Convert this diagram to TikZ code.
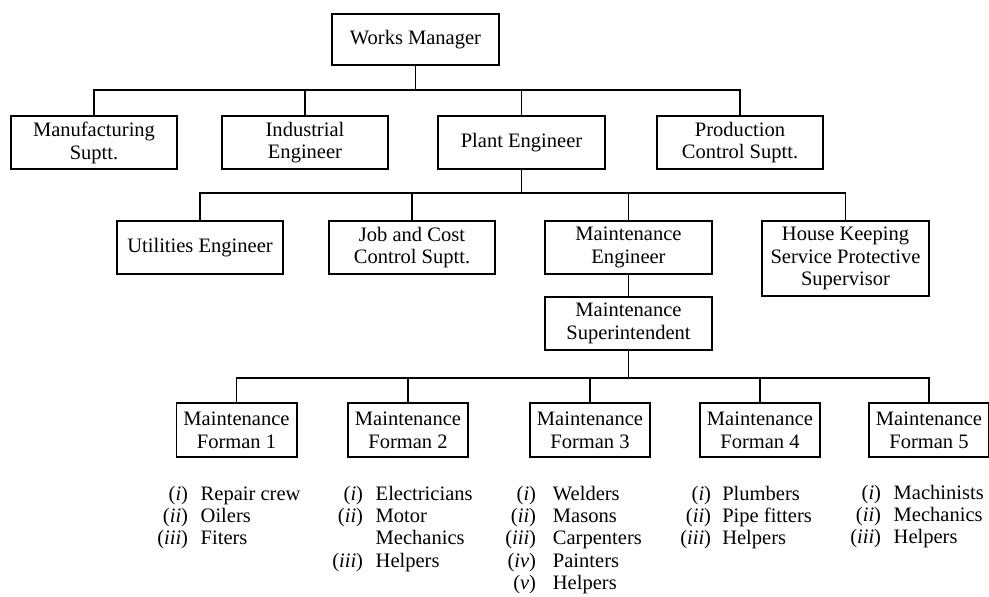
\documentclass[tikz,border=0pt]{standalone}
\usepackage{fontspec}
\setmainfont{Liberation Serif}
\usepackage{tikz}

\begin{document}
\begin{tikzpicture}[x=0.025cm, y=-0.025cm,
  font=\fontsize{14.6}{16.2}\selectfont,
  box/.style={draw, line width=1.4pt, minimum width=4.15cm, minimum height=1.33cm, align=center, inner sep=2pt, anchor=north},
  fman/.style={box, minimum width=3.0cm, minimum height=1.35cm},
  lst/.style={anchor=base west, inner sep=0pt, font=\fontsize{14.6}{15.9}\selectfont},
  link/.style={line width=1.4pt}
]
  \useasboundingbox (0,0) rectangle (989,597);

  % top level
  \node[box, minimum height=1.28cm] (wm) at (415.5,13) {Works Manager};
  \node[box] (mfg) at (94,115) {Manufacturing\\Suptt.};
  \node[box] (ind) at (305,115) {Industrial\\Engineer};
  \node[box] (pe) at (521.5,115) {Plant Engineer};
  \node[box] (pc) at (740,115) {Production\\Control Suptt.};

  % under plant engineer
  \node[box] (ue) at (200,220) {Utilities Engineer};
  \node[box] (jc) at (412,220) {Job and Cost\\Control Suptt.};
  \node[box] (me) at (628.5,220) {Maintenance\\Engineer};
  \node[box, minimum height=1.88cm] (hk) at (845.5,220) {House Keeping\\Service Protective\\Supervisor};
  \node[box] (ms) at (628.5,296) {Maintenance\\Superintendent};

  % formen
  \node[fman] (f1) at (236.5,402) {Maintenance\\Forman 1};
  \node[fman] (f2) at (408,402) {Maintenance\\Forman 2};
  \node[fman] (f3) at (590,402) {Maintenance\\Forman 3};
  \node[fman] (f4) at (760,402) {Maintenance\\Forman 4};
  \node[fman] (f5) at (929,402) {Maintenance\\Forman 5};

  % crews
  \node[lst] (l1) at (157,500) {\begin{tabular}[t]{@{}r@{\hspace{9pt}}l@{}}
    (\textit{i}) & Repair crew\\ (\textit{ii}) & Oilers\\ (\textit{iii}) & Fiters\end{tabular}};
  \node[lst] (l2) at (332,500) {\begin{tabular}[t]{@{}r@{\hspace{9pt}}l@{}}
    (\textit{i}) & Electricians\\ (\textit{ii}) & Motor\\ & Mechanics\\ (\textit{iii}) & Helpers\end{tabular}};
  \node[lst] (l3) at (505,500) {\begin{tabular}[t]{@{}r@{\hspace{12pt}}l@{}}
    (\textit{i}) & Welders\\ (\textit{ii}) & Masons\\ (\textit{iii}) & Carpenters\\ (\textit{iv}) & Painters\\ (\textit{v}) & Helpers\end{tabular}};
  \node[lst] (l4) at (680,500) {\begin{tabular}[t]{@{}r@{\hspace{8pt}}l@{}}
    (\textit{i}) & Plumbers\\ (\textit{ii}) & Pipe fitters\\ (\textit{iii}) & Helpers\end{tabular}};
  \node[lst] (l5) at (850,499) {\begin{tabular}[t]{@{}r@{\hspace{9pt}}l@{}}
    (\textit{i}) & Machinists\\ (\textit{ii}) & Mechanics\\ (\textit{iii}) & Helpers\end{tabular}};

  % bus lines
  \coordinate (busa) at (0,90);
  \coordinate (busb) at (0,193);
  \coordinate (busc) at (0,378);

  \foreach \c in {mfg,ind,pe,pc}
    \draw[link] (wm.south) -- (wm.south |- busa) -| (\c.north);
  \foreach \c in {ue,jc,me,hk}
    \draw[link] (pe.south) -- (pe.south |- busb) -| (\c.north);
  \draw[link] (me.south) -- (ms.north);
  \foreach \c in {f1,f2,f3,f4,f5}
    \draw[link] (ms.south) -- (ms.south |- busc) -| (\c.north);
\end{tikzpicture}
\end{document}
